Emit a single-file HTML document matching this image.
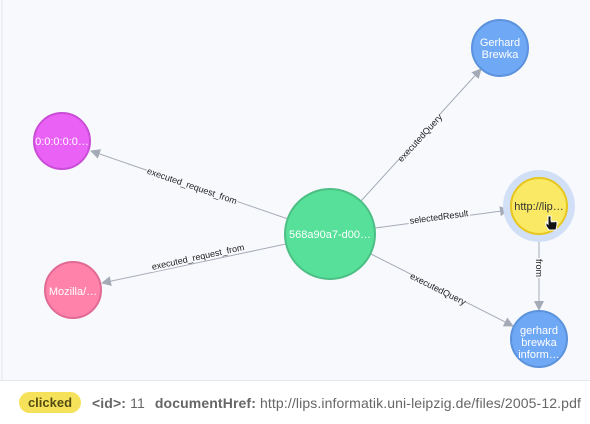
<!DOCTYPE html>
<html><head><meta charset="utf-8"><style>
html,body{margin:0;padding:0;width:590px;height:424px;overflow:hidden;background:#fff;font-family:"Liberation Sans",sans-serif}
</style></head><body>
<svg width="590" height="424" xmlns="http://www.w3.org/2000/svg" font-family="Liberation Sans, sans-serif">
<defs><marker id="a" markerWidth="10" markerHeight="10" refX="9" refY="5" orient="auto" markerUnits="userSpaceOnUse"><path d="M0,0 L10,5 L0,10 z" fill="#a5abb6"/></marker></defs>
<rect x="0" y="0" width="590" height="380" fill="#f8f9fd"/>
<line x1="2" y1="0" x2="2" y2="380" stroke="#e6e8ee"/>
<line x1="0" y1="380.5" x2="590" y2="380.5" stroke="#e6e8ee"/>
<g stroke="#a5abb6" stroke-width="1" fill="none">
<line x1="288" y1="219" x2="91" y2="151" marker-end="url(#a)"/>
<line x1="286" y1="244" x2="102" y2="283" marker-end="url(#a)"/>
<line x1="361" y1="201" x2="481" y2="69" marker-end="url(#a)"/>
<line x1="375" y1="228" x2="509" y2="210" marker-end="url(#a)"/>
<line x1="371" y1="254" x2="513" y2="326" marker-end="url(#a)"/>
<line x1="539" y1="234" x2="539" y2="310" marker-end="url(#a)"/>
</g>
<g font-size="9" fill="#222" text-anchor="middle">
<g transform="translate(192,186) rotate(19.1)"><rect x="-48" y="-7" width="96" height="12" fill="#f8f9fd"/><text y="3">executed_request_from</text></g>
<g transform="translate(198,257) rotate(-12.3)"><rect x="-48" y="-7" width="96" height="12" fill="#f8f9fd"/><text y="3">executed_request_from</text></g>
<g transform="translate(420,138) rotate(-47.6)"><rect x="-30" y="-7" width="60" height="12" fill="#f8f9fd"/><text y="3">executedQuery</text></g>
<g transform="translate(439,217) rotate(-7.6)"><rect x="-31" y="-7" width="62" height="12" fill="#f8f9fd"/><text y="3">selectedResult</text></g>
<g transform="translate(438,289) rotate(26.7)"><rect x="-30" y="-7" width="60" height="12" fill="#f8f9fd"/><text y="3">executedQuery</text></g>
<g transform="translate(539,268) rotate(90)"><rect x="-10" y="-7" width="20" height="12" fill="#f8f9fd"/><text y="3">from</text></g>
</g>
<circle cx="539" cy="206" r="36" fill="#d2e0f7"/>
<g stroke-width="2">
<circle cx="330" cy="234" r="45" fill="#57e09a" stroke="#4bbf84"/>
<circle cx="500" cy="48" r="28" fill="#6fa8f5" stroke="#5b92dc"/>
<circle cx="62" cy="141" r="28" fill="#e961f5" stroke="#c94dd6"/>
<circle cx="73" cy="290" r="28" fill="#ff82ab" stroke="#e06a93"/>
<circle cx="539" cy="206" r="28" fill="#f9e964" stroke="#e7c61f"/>
<circle cx="539" cy="339" r="28" fill="#6fa8f5" stroke="#5b92dc"/>
</g>
<g font-size="11" fill="#fff" text-anchor="middle">
<text x="330" y="238">568a90a7-d00…</text>
<text x="500" y="46">Gerhard</text><text x="500" y="58">Brewka</text>
<text x="62" y="145">0:0:0:0:0…</text>
<text x="73" y="295">Mozilla/…</text>
<text x="539" y="210" fill="#333">http://lip…</text>
<text x="539" y="334">gerhard</text><text x="539" y="346">brewka</text><text x="539" y="358">inform…</text>
</g>
<path d="M548,216 v8 l-2,-2 v4 l3,4 h7 l1,-5 v-3 l-2,-1 -1,1 -1,-1 -1,1 -1,-1 v-5 z" fill="#111" stroke="#fff" stroke-width="1"/>
<rect x="19" y="392" width="62" height="21" rx="10.5" fill="#f6e25a"/>
<text x="50" y="407" font-size="13" font-weight="bold" fill="#554d10" text-anchor="middle">clicked</text>
<text x="92" y="408" font-size="14" fill="#666" letter-spacing="0.12"><tspan font-weight="bold">&lt;id&gt;:</tspan> 11   <tspan font-weight="bold" dx="6">documentHref:</tspan> http://lips.informatik.uni-leipzig.de/files/2005-12.pdf</text>
</svg>
</body></html>
